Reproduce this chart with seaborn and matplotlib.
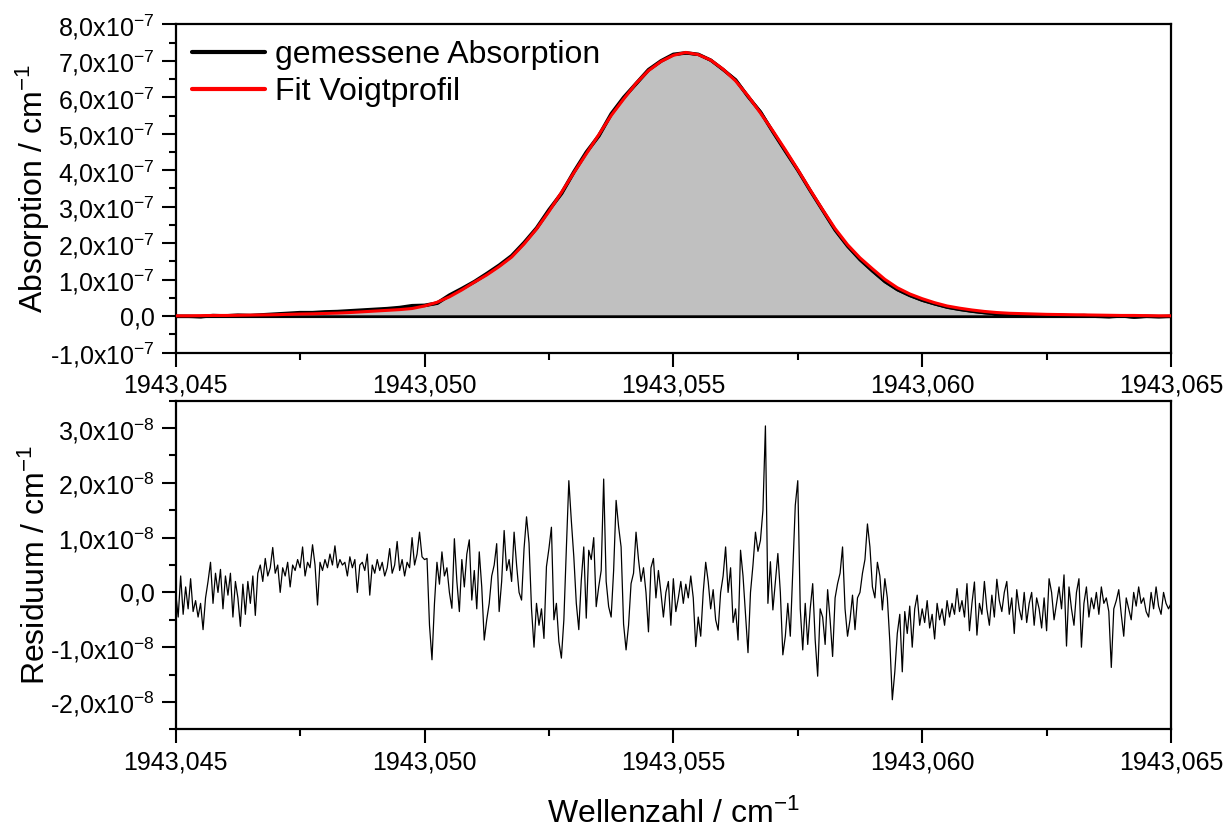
import numpy as np
import matplotlib
matplotlib.use("Agg")
import matplotlib.pyplot as plt
import matplotlib.ticker as mticker
import seaborn as sns

# ---------------- data ----------------
# wavenumber range (cm^-1)
x_start, x_end = 1943.045, 1943.065

# absorption (units of 1e-7 cm^-1), sampled every 0.00025 cm^-1
measured_abs = [
    0.00, 0.00, -0.01, 0.02, 0.01, 0.03, 0.02, 0.04, 0.06, 0.08,
    0.10, 0.10, 0.12, 0.13, 0.15, 0.17, 0.19, 0.21, 0.24, 0.29,
    0.30, 0.36, 0.58, 0.76, 0.95, 1.17, 1.40, 1.66, 2.02, 2.42,
    2.92, 3.37, 3.96, 4.50, 4.95, 5.55, 6.00, 6.38, 6.76, 7.00,
    7.18, 7.22, 7.18, 7.02, 6.76, 6.48, 6.02, 5.60, 5.05, 4.52,
    4.00, 3.44, 2.90, 2.36, 1.92, 1.55, 1.24, 0.95, 0.73, 0.57,
    0.44, 0.34, 0.25, 0.19, 0.14, 0.10, 0.07, 0.06, 0.04, 0.04,
    0.02, 0.03, 0.01, 0.02, 0.00, -0.01, 0.01, -0.02, 0.00, -0.01,
    0.00,
]
fit_abs = [
    0.01, 0.01, 0.015, 0.02, 0.02, 0.025, 0.03, 0.035, 0.04, 0.05,
    0.06, 0.065, 0.075, 0.085, 0.10, 0.12, 0.14, 0.16, 0.18, 0.21,
    0.28, 0.38, 0.53, 0.72, 0.93, 1.13, 1.36, 1.62, 1.98, 2.39,
    2.87, 3.39, 3.93, 4.45, 4.97, 5.50, 5.95, 6.38, 6.73, 6.98,
    7.15, 7.23, 7.17, 7.02, 6.77, 6.45, 6.04, 5.57, 5.08, 4.56,
    4.02, 3.46, 2.92, 2.40, 1.96, 1.60, 1.30, 1.01, 0.78, 0.61,
    0.48, 0.37, 0.28, 0.22, 0.17, 0.13, 0.10, 0.08, 0.07, 0.06,
    0.05, 0.045, 0.04, 0.035, 0.03, 0.025, 0.02, 0.02, 0.015, 0.01,
    0.01,
]

# residual (units of 1e-8 cm^-1), sampled every 0.00005 cm^-1
residual = [
    0.0, -0.45, 0.3, -0.4, 0.1, -0.3, 0.25, -0.35, -0.15, -0.45,
    -0.2, -0.68, -0.1, 0.2, 0.55, -0.2, 0.35, 0.0, 0.42, -0.3,
    0.3, -0.05, 0.35, -0.45, 0.2, -0.1, -0.62, 0.15, -0.4, 0.2,
    -0.2, 0.3, -0.42,
    0.35, 0.5, 0.2, 0.62, 0.3, 0.45, 0.82, 0.35, 0.5, 0.0,
    0.45, 0.3, 0.55, 0.1, 0.5, 0.4, 0.6, 0.45, 0.83, 0.3,
    0.55, 0.45, 0.87, 0.5, -0.23, 0.55, 0.4, 0.6, 0.45, 0.7,
    0.5,
    0.85, 0.45, 0.6, 0.5, 0.55, 0.3, 0.65, 0.45, 0.6, 0.0,
    0.5, 0.55, 0.4, 0.7, -0.05, 0.5, 0.35, 0.6, 0.4, 0.55,
    0.3, 0.45, 0.8, 0.35, 0.5, 0.93, 0.4, 0.6, 0.3, 0.55,
    0.45, 1.0, 0.5, 0.7, 1.1, 0.65, 0.6,
    0.62, -0.6, -1.23, -0.2, 0.55, 0.15, 0.74, 0.3, 0.45, 0.0,
    -0.29, 0.98, 0.2, -0.35, 0.6, 0.1, 0.7, 0.96, -0.14, 0.4,
    -0.3, 0.74, 0.1, -0.87, -0.5,
    -0.2, 0.3, 0.5, 0.89, -0.35, 0.2, 1.13, 0.4, 0.6, 0.2,
    1.1, 0.5, 0.0, -0.14, 0.8, 1.38, 0.9, -0.3, -1.0, -0.2,
    -0.6, -0.3, -0.84, 0.47, 0.8, 1.19, -0.5, -0.2, -0.9, -1.2,
    -0.5, 0.8, 2.04,
    1.31, 0.65, -0.2, -0.68, 0.22, 0.83, -0.47, 0.77, 0.6, 1.0,
    -0.26, 0.1, 0.4, 2.07, 0.2, -0.26, -0.45, 0.4, 1.68, 1.2,
    0.83, -0.58, -1.05, -0.6, 0.16, 0.35, 1.1, 0.6, 0.2, 0.45,
    0.0, -0.72, 0.45, 0.62, -0.1, 0.4, 0.0, -0.45, 0.0, 0.2,
    -0.6, 0.25,
    -0.35, -0.1, 0.2, -0.2, 0.15, -0.1, 0.3, -0.1, -0.99, -0.45,
    -0.8, 0.0, 0.55, 0.2, -0.3, 0.05, -0.5, -0.69, 0.0, 0.3,
    0.83, 0.0, 0.45, -0.55, -0.3, -0.87, 0.77, 0.3, -0.4, -1.1,
    0.0, 0.5, 1.1, 0.75, 0.95, 1.5, 3.04, -0.2,
    0.56, -0.32, 0.2, 0.71, 0.0, -1.14, -0.8, -0.2, -0.8, 0.4,
    1.59, 2.04, -0.3, -1.05, -0.2, -0.95, -0.3, 0.16, -0.87, -1.53,
    -0.3, -0.45, -0.95, 0.05, -0.5, -1.17, -0.1, 0.16, 0.35, 0.83,
    -0.3, -0.8, -0.5, -0.05, -0.68, -0.1, 0.0, 0.35, 0.6, 1.25,
    0.83,
    0.1, -0.1, 0.55, 0.3, -0.32, 0.25, -0.1, -0.9, -1.96, -1.45,
    -0.75, -0.4, -1.45, -0.35, -0.75, -0.25, -1.0, -0.3, -0.05, -0.6,
    -0.3, -0.55, -0.15, -0.65, -0.4, -0.85, -0.2, -0.5, -0.3, -0.6,
    -0.15, -0.45, -0.2, -0.4, 0.07, -0.35, -0.15, -0.45, 0.16, -0.7,
    -0.2,
    0.19, -0.78, -0.2, -0.4, 0.2, -0.3, -0.6, -0.05, -0.45, 0.24,
    -0.15, -0.35, 0.0, 0.2, -0.4, -0.1, -0.75, 0.05, -0.3, -0.5,
    0.0, -0.55, -0.2, 0.0, -0.6, -0.1, -0.3, -0.65, -0.1, -0.7,
    0.25, 0.0, -0.5, -0.2, 0.1, -0.3, 0.32, -0.98,
    0.1, -0.3, -0.6, 0.0, 0.25, -1.0, -0.2, 0.1, -0.45, -0.1,
    -0.3, 0.0, -0.4, 0.1, -0.2, -0.1, -0.35, -1.37, -0.3, -0.15,
    0.05, -0.4, -0.8, -0.1, -0.3, -0.5, 0.0, -0.25, 0.1, -0.2,
    -0.1, -0.35, -0.45, 0.0, -0.3, 0.1, -0.25, -0.4, 0.0, -0.2,
    -0.3, -0.2,
]

legend_labels = ["gemessene Absorption", "Fit Voigtprofil"]
x_label = r"Wellenzahl / cm$^{-1}$"
y_label_top = r"Absorption / cm$^{-1}$"
y_label_bottom = r"Residuum / cm$^{-1}$"

# ---------------- style ----------------
sns.set_style("ticks")
plt.rcParams["font.family"] = ["Liberation Sans", "DejaVu Sans"]
plt.rcParams["mathtext.fontset"] = "custom"
plt.rcParams["mathtext.rm"] = "Liberation Sans"
plt.rcParams["mathtext.it"] = "Liberation Sans:italic"
plt.rcParams["mathtext.bf"] = "Liberation Sans:bold"
plt.rcParams["mathtext.default"] = "regular"
plt.rcParams["text.color"] = "black"
plt.rcParams["axes.labelcolor"] = "black"
plt.rcParams["xtick.color"] = "black"
plt.rcParams["ytick.color"] = "black"

x_abs = np.linspace(x_start, x_end, len(measured_abs))
x_res = np.linspace(x_start, x_end, len(residual))
meas = np.array(measured_abs) * 1e-7
fit = np.array(fit_abs) * 1e-7
res = np.array(residual) * 1e-8

fig = plt.figure(figsize=(12.32, 8.30), dpi=100)
ax1 = fig.add_axes([0.1426, 0.5751, 0.8079, 0.3956])
ax2 = fig.add_axes([0.1426, 0.1213, 0.8079, 0.3959])

# top panel
ax1.fill_between(x_abs, 0, meas, facecolor="#c0c0c0", edgecolor="black",
                 linewidth=2.0, zorder=1)
sns.lineplot(x=x_abs, y=meas, ax=ax1, color="black", linewidth=2.4,
             label=legend_labels[0], zorder=2)
sns.lineplot(x=x_abs, y=fit, ax=ax1, color="#ff0000", linewidth=2.2,
             label=legend_labels[1], zorder=3)

# bottom panel
sns.lineplot(x=x_res, y=res, ax=ax2, color="black", linewidth=0.9)

def fmt_y(exp):
    def f(v, pos):
        m = v / 10**exp
        if abs(m) < 1e-9:
            return "0,0"
        return ("%.1f" % m).replace(".", ",") + "x10$^{%d}$" % exp
    return f

def fmt_x(v, pos):
    return ("%.3f" % v).replace(".", ",")

for ax in (ax1, ax2):
    ax.set_xlim(x_start, x_end)
    ax.xaxis.set_major_locator(mticker.MultipleLocator(0.005))
    ax.xaxis.set_minor_locator(mticker.MultipleLocator(0.0025))
    ax.xaxis.set_major_formatter(mticker.FuncFormatter(fmt_x))
    ax.tick_params(which="major", direction="out", length=10, width=1.5,
                   labelsize=18, pad=5, color="black", labelcolor="black")
    ax.tick_params(which="minor", direction="out", length=5, width=1.5,
                   color="black")
    for s in ax.spines.values():
        s.set_visible(True)
        s.set_linewidth(1.6)
        s.set_color("black")
    ax.set_facecolor("white")

ax1.set_ylim(-1e-7, 8e-7)
ax1.yaxis.set_major_locator(mticker.MultipleLocator(1e-7))
ax1.yaxis.set_minor_locator(mticker.MultipleLocator(0.5e-7))
ax1.yaxis.set_major_formatter(mticker.FuncFormatter(fmt_y(-7)))

ax2.set_ylim(-2.5e-8, 3.5e-8)
ax2.yaxis.set_major_locator(mticker.MultipleLocator(1e-8))
ax2.yaxis.set_minor_locator(mticker.MultipleLocator(0.5e-8))
ax2.yaxis.set_major_formatter(mticker.FuncFormatter(fmt_y(-8)))

ax1.set_xlabel("")
ax1.set_ylabel(y_label_top, fontsize=23)
ax2.set_ylabel(y_label_bottom, fontsize=23)
ax2.set_xlabel(x_label, fontsize=23)
ax1.yaxis.set_label_coords(-0.124, 0.5)
ax2.yaxis.set_label_coords(-0.124, 0.5)
ax2.xaxis.set_label_coords(0.5, -0.212)
ax2.xaxis.label.set_va("top")

leg = ax1.legend(loc="upper left", frameon=False, fontsize=23,
                 handlelength=2.3, handletextpad=0.3, labelspacing=0.22,
                 borderaxespad=0.25, borderpad=0.25)
for line in leg.get_lines():
    line.set_linewidth(3)

fig.savefig("out.png", dpi=100, facecolor="white")
